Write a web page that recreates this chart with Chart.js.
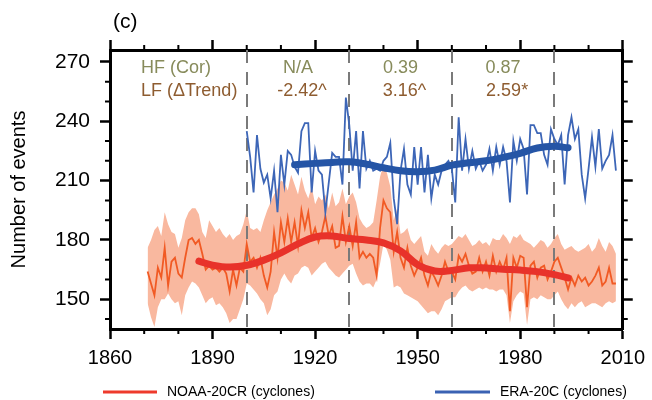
<!DOCTYPE html>
<html>
<head>
<meta charset="utf-8">
<script src="https://cdn.jsdelivr.net/npm/chart.js@4/dist/chart.umd.min.js"></script>
<style>
  body { margin: 0; background: #fff; }
</style>
</head>
<body>
<canvas id="cyclone-chart" width="652" height="400"></canvas>
<script>
// NOAA-20CR, annual counts 1871-2008
const noaaStart = 1871;
const noaaValues = [
    164, 158, 152, 166, 161, 176, 157, 169, 171, 163,
    161, 171, 180, 181, 178, 180, 173, 165, 167, 165,
    166, 164, 166, 163, 154, 165, 157, 166, 164, 178,
    169, 171, 166, 171, 162, 156, 164, 184, 171, 189,
    179, 191, 179, 189, 177, 195, 186, 194, 181, 186,
    179, 184, 192, 182, 187, 176, 177, 192, 179, 187,
    177, 189, 171, 174, 171, 173, 171, 162, 186, 200,
    196, 194, 174, 184, 171, 166, 176, 167, 162, 166,
    171, 162, 157, 164, 161, 157, 162, 169, 164, 164,
    160, 172, 169, 173, 167, 163, 164, 171, 164, 169,
    162, 172, 164, 169, 165, 171, 144, 171, 166, 172,
    171, 146, 167, 169, 161, 166, 167, 160, 164, 169,
    171, 166, 161, 155, 161, 157, 162, 159, 161, 157,
    159, 162, 166, 157, 159, 166, 158, 158
];
const noaaUpper = [
    176, 180, 185, 187, 182, 194, 188, 184, 183, 176,
    181, 190, 194, 196, 196, 193, 184, 181, 190, 187,
    184, 186, 183, 181, 183, 180, 182, 183, 188, 195,
    186, 185, 186, 184, 190, 195, 199, 203, 206, 210,
    209, 205, 213, 208, 203, 212, 205, 201, 207, 198,
    202, 200, 203, 196, 204, 197, 199, 206, 198, 202,
    204, 199, 191, 188, 186, 187, 189, 200, 212, 218,
    214, 207, 190, 196, 183, 184, 186, 180, 178, 180,
    182, 174, 172, 178, 175, 173, 176, 178, 177, 178,
    180, 182, 181, 183, 180, 177, 178, 180, 178, 179,
    177, 181, 180, 180, 183, 181, 178, 182, 181, 183,
    180, 179, 178, 176, 178, 180, 179, 176, 178, 181,
    183, 178, 175, 176, 177, 175, 174, 175, 176, 178,
    174, 176, 181, 177, 174, 179, 177, 173
];
const noaaLower = [
    148, 141, 136, 146, 150, 150, 153, 150, 148, 149,
    142, 152, 156, 159, 158, 156, 152, 148, 150, 151,
    147, 148, 146, 143, 138, 140, 140, 145, 150, 158,
    157, 155, 153, 150, 148, 142, 145, 152, 154, 160,
    163, 160, 158, 162, 163, 166, 167, 166, 162, 164,
    166, 168, 169, 166, 164, 162, 161, 163, 165, 167,
    168, 163, 159, 157, 158, 158, 156, 160, 168, 178,
    175, 170, 156, 157, 156, 153, 152, 151, 150, 149,
    147, 145, 143, 144, 144, 142, 145, 149, 150, 151,
    151, 154, 156, 157, 155, 154, 155, 156, 155, 156,
    155, 155, 154, 155, 155, 152, 138, 149, 152, 154,
    153, 137, 150, 151, 150, 152, 151, 150, 150, 152,
    154, 150, 147, 145, 148, 146, 148, 149, 146, 147,
    148, 148, 147, 146, 148, 149, 148, 149
];

// ERA-20C, annual counts 1900-2008
const eraStart = 1900;
const eraValues = [
    235, 222, 204, 233, 216, 209, 213, 201, 215, 194,
    223, 208, 225, 223, 217, 214, 235, 239, 239, 204,
    225, 215, 213, 194, 209, 224, 222, 222, 208, 252,
    238, 215, 235, 206, 235, 216, 220, 215, 216, 215,
    220, 222, 229, 201, 188, 215, 226, 208, 203, 227,
    208, 227, 204, 223, 201, 213, 208, 215, 218, 220,
    216, 199, 242, 215, 231, 216, 225, 216, 220, 215,
    218, 226, 215, 227, 218, 227, 220, 199, 230, 220,
    231, 226, 203, 238, 238, 234, 234, 223, 218, 236,
    231, 228, 233, 208, 233, 242, 231, 236, 213, 201,
    216, 232, 217, 236, 216, 220, 223, 233, 215
];

// low-frequency curves
const noaaSmoothYears = [1886, 1890, 1895, 1900, 1905, 1910, 1915, 1920, 1925, 1930, 1935, 1940, 1945, 1950, 1955, 1960, 1965, 1970, 1975, 1980, 1985, 1990, 1994];
const noaaSmooth = [169.3, 167.3, 166.3, 167.2, 169.8, 173.5, 178, 181.5, 182, 180.7, 180, 178.5, 174.5, 167.5, 164.3, 164.6, 165.9, 165.8, 165.2, 164.8, 164, 162.5, 160.8];
const eraSmoothYears = [1914, 1920, 1925, 1930, 1935, 1940, 1945, 1950, 1955, 1960, 1965, 1970, 1975, 1980, 1985, 1990, 1994];
const eraSmooth = [218, 218.7, 219.2, 219.5, 218.3, 216.5, 215, 214.5, 215.3, 217.8, 219, 220, 221.7, 223.8, 226.5, 227.3, 226.6];

// axes and annotations
const xTicks = [1860, 1890, 1920, 1950, 1980, 2010];
const yTicks = [150, 180, 210, 240, 270];
const breakYears = [1900, 1930, 1960, 1990];
const hfLabels = ['N/A', '0.39', '0.87'];
const lfLabels = ['-2.42^', '3.16^', '2.59*'];

const FONT = "'Liberation Sans', Arial, Helvetica, sans-serif";

const toPoints = (start, values) => values.map((v, i) => ({x: start + i, y: v}));
const pairPoints = (xs, values) => values.map((v, i) => ({x: xs[i], y: v}));

const decorations = {
    id: 'decorations',
    afterDatasetDraw(chart, args) {
        // dashed period separators, above the band but under the lines
        if (args.index !== 1) return;
        const ctx = chart.ctx;
        const area = chart.chartArea;
        const x = chart.scales.x;
        ctx.save();
        ctx.strokeStyle = '#7a7a7a';
        ctx.lineWidth = 2;
        ctx.setLineDash([13, 9]);
        breakYears.forEach(year => {
            const px = Math.round(x.getPixelForValue(year));
            ctx.beginPath();
            ctx.moveTo(px, area.top);
            ctx.lineTo(px, area.bottom);
            ctx.stroke();
        });
        ctx.restore();
    },
    afterDraw(chart) {
        const ctx = chart.ctx;
        const area = chart.chartArea;
        const x = chart.scales.x;
        const y = chart.scales.y;
        ctx.save();

        // minor ticks
        ctx.strokeStyle = '#000';
        ctx.lineWidth = 2;
        ctx.beginPath();
        for (let yr = 1860; yr <= 2010; yr += 10) {
            if (xTicks.includes(yr)) continue;
            const px = x.getPixelForValue(yr);
            ctx.moveTo(px, area.bottom);
            ctx.lineTo(px, area.bottom + 5);
            ctx.moveTo(px, area.top);
            ctx.lineTo(px, area.top - 5);
        }
        for (let v = 140; v <= 270; v += 10) {
            if (yTicks.includes(v)) continue;
            const py = y.getPixelForValue(v);
            ctx.moveTo(area.left, py);
            ctx.lineTo(area.left - 5, py);
            ctx.moveTo(area.right, py);
            ctx.lineTo(area.right + 5, py);
        }
        ctx.stroke();

        // HF / LF statistics
        ctx.font = '18px ' + FONT;
        ctx.textBaseline = 'middle';
        ctx.textAlign = 'left';
        ctx.fillStyle = '#878b5b';
        ctx.fillText('HF (Cor)', area.left + 31, area.top + 18);
        ctx.fillStyle = '#8e5c30';
        ctx.fillText('LF (\u0394Trend)', area.left + 31, area.top + 41);
        ctx.textAlign = 'center';
        for (let i = 0; i < hfLabels.length; i++) {
            const px = x.getPixelForValue((breakYears[i] + breakYears[i + 1]) / 2);
            ctx.fillStyle = '#878b5b';
            ctx.fillText(hfLabels[i], px, area.top + 18);
            ctx.fillStyle = '#8e5c30';
            ctx.fillText(lfLabels[i], px + 4, area.top + 41);
        }

        // panel label
        ctx.fillStyle = '#000';
        ctx.textAlign = 'left';
        ctx.font = '21px ' + FONT;
        ctx.fillText('(c)', 113, 22);

        // legend
        ctx.font = '14px ' + FONT;
        ctx.lineWidth = 3;
        ctx.strokeStyle = '#ee3a2c';
        ctx.beginPath();
        ctx.moveTo(103, 392);
        ctx.lineTo(157, 392);
        ctx.stroke();
        ctx.fillText('NOAA-20CR (cyclones)', 167, 392);
        ctx.strokeStyle = '#3a62b3';
        ctx.beginPath();
        ctx.moveTo(435, 392);
        ctx.lineTo(490, 392);
        ctx.stroke();
        ctx.fillText('ERA-20C (cyclones)', 500, 392);

        ctx.restore();
    }
};

const frameGrid = {
    drawOnChartArea: false,
    drawTicks: true,
    tickLength: 10,
    tickWidth: 2.5,
    color: '#000'
};
const frameBorder = {display: true, color: '#000', width: 3};

const chartConfig = {
    type: 'line',
    data: {
        datasets: [
            {
                label: 'band upper',
                data: toPoints(noaaStart, noaaUpper),
                borderWidth: 0,
                pointRadius: 0,
                backgroundColor: '#f9b89f',
                fill: '+1',
                order: 6
            },
            {
                label: 'band lower',
                data: toPoints(noaaStart, noaaLower),
                borderWidth: 0,
                pointRadius: 0,
                fill: false,
                order: 5
            },
            {
                label: 'NOAA-20CR (cyclones)',
                data: toPoints(noaaStart, noaaValues),
                borderColor: '#f15a24',
                borderWidth: 1.8,
                pointRadius: 0,
                fill: false,
                order: 4
            },
            {
                label: 'ERA-20C (cyclones)',
                data: toPoints(eraStart, eraValues),
                borderColor: '#3d66b7',
                borderWidth: 1.8,
                pointRadius: 0,
                fill: false,
                order: 3
            },
            {
                label: 'NOAA smooth',
                data: pairPoints(noaaSmoothYears, noaaSmooth),
                borderColor: '#e8322a',
                borderWidth: 7,
                borderCapStyle: 'round',
                tension: 0.4,
                pointRadius: 0,
                fill: false,
                order: 2
            },
            {
                label: 'ERA smooth',
                data: pairPoints(eraSmoothYears, eraSmooth),
                borderColor: '#2555a6',
                borderWidth: 7,
                borderCapStyle: 'round',
                tension: 0.4,
                pointRadius: 0,
                fill: false,
                order: 1
            }
        ]
    },
    options: {
        responsive: false,
        animation: false,
        layout: {padding: 0},
        plugins: {
            legend: {display: false},
            tooltip: {enabled: false}
        },
        scales: {
            x: {
                type: 'linear',
                position: 'bottom',
                min: 1860,
                max: 2010,
                afterBuildTicks(scale) {
                    scale.ticks = xTicks.map(v => ({value: v}));
                },
                ticks: {
                    color: '#000',
                    font: {size: 20, family: FONT},
                    padding: 7,
                    maxRotation: 0,
                    callback: v => String(v)
                },
                grid: frameGrid,
                border: frameBorder,
                afterFit(scale) {
                    scale.height = 71;
                }
            },
            xTop: {
                type: 'linear',
                position: 'top',
                min: 1860,
                max: 2010,
                afterBuildTicks(scale) {
                    scale.ticks = xTicks.map(v => ({value: v}));
                },
                ticks: {display: false},
                grid: frameGrid,
                border: frameBorder,
                afterFit(scale) {
                    scale.height = 50;
                }
            },
            y: {
                type: 'linear',
                position: 'left',
                min: 135,
                max: 276,
                afterBuildTicks(scale) {
                    scale.ticks = yTicks.map(v => ({value: v}));
                },
                ticks: {
                    color: '#000',
                    font: {size: 21, family: FONT},
                    padding: 10
                },
                title: {
                    display: true,
                    text: 'Number of events',
                    color: '#000',
                    font: {size: 20, family: FONT},
                    padding: {top: 7, bottom: 0}
                },
                grid: frameGrid,
                border: frameBorder,
                afterFit(scale) {
                    scale.width = 110;
                }
            },
            yRight: {
                type: 'linear',
                position: 'right',
                min: 135,
                max: 276,
                afterBuildTicks(scale) {
                    scale.ticks = yTicks.map(v => ({value: v}));
                },
                ticks: {display: false},
                grid: frameGrid,
                border: frameBorder,
                afterFit(scale) {
                    scale.width = 25;
                }
            }
        }
    },
    plugins: [decorations]
};

new Chart('cyclone-chart', chartConfig);
</script>
</body>
</html>
